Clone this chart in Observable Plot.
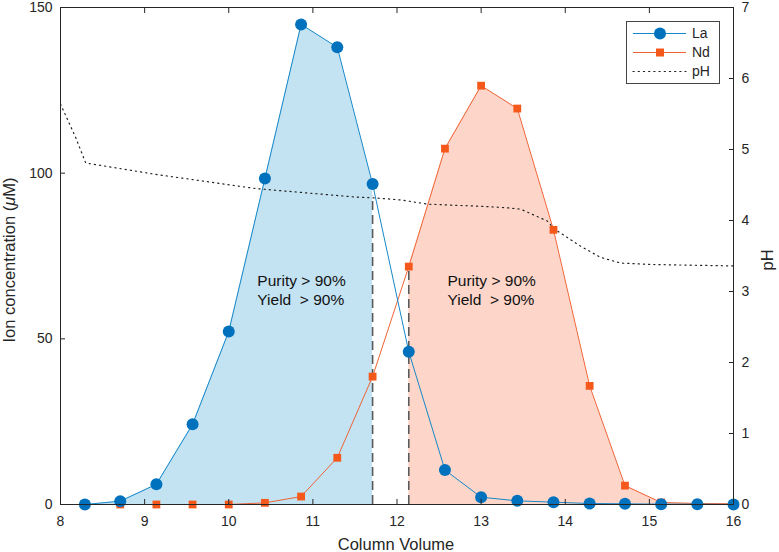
<!DOCTYPE html>
<html lang="en">
<head>
<meta charset="UTF-8">
<title>La / Nd elution</title>
<script src="https://cdn.jsdelivr.net/npm/d3@7"></script>
<script src="https://cdn.jsdelivr.net/npm/@observablehq/plot@0.6"></script>
<style>
  body { margin: 0; background: #fff; }
  #chart svg { display: block; }
</style>
</head>
<body>
<div id="chart"></div>
<script>
// fraction positions (column volumes) and concentrations (uM)
const volume = [8.29, 8.71, 9.14, 9.57, 10.0, 10.43, 10.86, 11.29, 11.71, 12.14, 12.57, 13.0, 13.43, 13.86, 14.29, 14.71, 15.14, 15.57, 16.0];
const la = [0, 1, 6.1, 24.2, 52.2, 98.4, 144.9, 138, 96.7, 46.1, 10.4, 2.2, 1.1, 0.7, 0.3, 0.2, 0.1, 0.1, 0];
const nd = [0, 0, 0, 0, 0, 0.5, 2.4, 14.1, 38.6, 71.8, 107.4, 126.4, 119.5, 82.9, 35.8, 5.7, 0.6, 0.3, 0.2];

// pH trace (right axis)
const phVolume = [8.0, 8.18, 8.30, 9.13, 10.32, 11.51, 11.72, 12.04, 12.37, 13.0, 13.3, 13.47, 13.79, 13.87, 14.18, 14.42, 14.66, 15.05, 16.0];
const ph = [5.64, 5.17, 4.81, 4.65, 4.45, 4.33, 4.32, 4.29, 4.23, 4.2, 4.18, 4.16, 3.99, 3.88, 3.64, 3.48, 3.40, 3.38, 3.36];

// cut points
const cutVolume = [11.71, 12.14];
const cutTop = [93, 71.8];

// annotations
const noteX = [10.34, 12.60];
const noteY = [65, 65];
const noteText = ["Purity > 90%\nYield\u00a0\u00a0> 90%", "Purity > 90%\nYield\u00a0\u00a0> 90%"];

// ticks
const xTicks = [8, 9, 10, 11, 12, 13, 14, 15, 16];
const yTicks = [0, 50, 100, 150];
const pHTicks = [0, 1, 2, 3, 4, 5, 6, 7];

const yMax = 150, pHMax = 7;
const toLeft = p => p * yMax / pHMax;

const laData = volume.map((v, i) => ({x: v, y: la[i]}));
const ndData = volume.map((v, i) => ({x: v, y: nd[i]}));
const phData = phVolume.map((v, i) => ({x: v, y: toLeft(ph[i])}));
const cuts = cutVolume.map((v, i) => ({x: v, top: cutTop[i]}));
const notes = noteX.map((v, i) => ({x: v, y: noteY[i], text: noteText[i]}));

const laLine = "#1688c9", laMark = "#0072bd", laFill = "#c3e2f2";
const ndLine = "#ef6436", ndMark = "#f4591b", ndFill = "#fdd6c9";
const ink = "#262626";

const chart = Plot.plot({
  width: 779,
  height: 552,
  marginLeft: 60,
  marginRight: 46,
  marginTop: 7,
  marginBottom: 48,
  style: {fontFamily: "'Liberation Sans', Arial, sans-serif", fontSize: "14px", color: ink, background: "#fff"},
  x: {domain: [8, 16]},
  y: {domain: [0, yMax]},
  marks: [
    Plot.areaY(laData.filter(d => d.x <= cutVolume[0]), {x: "x", y: "y", fill: laFill}),
    Plot.areaY(ndData.filter(d => d.x >= cutVolume[1]), {x: "x", y: "y", fill: ndFill}),
    Plot.line(phData, {x: "x", y: "y", stroke: "#222", strokeWidth: 1.2, strokeDasharray: "1.2,4", strokeLinecap: "round"}),
    Plot.ruleX(cuts, {x: "x", y1: 0, y2: "top", stroke: "#5a5a5a", strokeWidth: 1.6, strokeDasharray: "9,5"}),
    Plot.line(ndData, {x: "x", y: "y", stroke: ndLine, strokeWidth: 1}),
    Plot.line(laData, {x: "x", y: "y", stroke: laLine, strokeWidth: 1}),
    Plot.dot(ndData, {x: "x", y: "y", symbol: "square", r: 4.4, fill: ndMark}),
    Plot.dot(laData, {x: "x", y: "y", r: 6, fill: laMark}),
    Plot.text(notes, {x: "x", y: "y", text: "text", textAnchor: "start", lineAnchor: "middle", lineHeight: 1.25, fontSize: 15.5, fill: "#111"}),
    // axes: labels outside, ticks inward
    Plot.axisX({anchor: "bottom", ticks: xTicks, tickSize: 0, tickPadding: 12, label: null, fill: ink}),
    Plot.axisX({anchor: "bottom", ticks: xTicks, tickSize: 5, dy: -5, text: null, label: null, stroke: ink}),
    Plot.axisX({anchor: "top", ticks: xTicks, tickSize: 5, dy: 5, text: null, label: null, stroke: ink}),
    Plot.axisY({anchor: "left", ticks: yTicks, tickSize: 0, tickPadding: 8, label: null, fill: ink}),
    Plot.axisY({anchor: "left", ticks: yTicks, tickSize: 5, dx: 5, text: null, label: null, stroke: ink}),
    Plot.axisY({anchor: "right", ticks: pHTicks.map(toLeft), tickFormat: d => Math.round(d * pHMax / yMax), tickSize: 0, tickPadding: 8, label: null, fill: ink}),
    Plot.axisY({anchor: "right", ticks: pHTicks.map(toLeft), tickSize: 5, dx: -5, text: null, label: null, stroke: ink}),
    Plot.frame({stroke: ink, strokeWidth: 1})
  ]
});

document.getElementById("chart").appendChild(chart);

// axis titles and legend, drawn on top of the plot svg
const svg = d3.select(chart);
const font = "'Liberation Sans', Arial, sans-serif";

svg.append("text")
  .attr("x", 396).attr("y", 550)
  .attr("text-anchor", "middle")
  .attr("font-family", font).attr("font-size", 16.5).attr("fill", ink)
  .text("Column Volume");

const yl = svg.append("text")
  .attr("transform", "translate(15,260) rotate(-90)")
  .attr("text-anchor", "middle")
  .attr("font-family", font).attr("font-size", 16.5).attr("fill", ink);
yl.append("tspan").text("Ion concentration (");
yl.append("tspan").attr("font-style", "italic").text("\u03bc");
yl.append("tspan").text("M)");

svg.append("text")
  .attr("transform", "translate(773,260) rotate(-90)")
  .attr("text-anchor", "middle")
  .attr("font-family", font).attr("font-size", 16.5).attr("fill", ink)
  .text("pH");

const legend = svg.append("g")
  .attr("font-family", font).attr("font-size", 14).attr("fill", ink)
  .attr("text-anchor", "start");
legend.append("rect")
  .attr("x", 626.5).attr("y", 21.5).attr("width", 93).attr("height", 62)
  .attr("fill", "#fff").attr("stroke", "#444").attr("stroke-width", 1);

const items = [
  {name: "La", stroke: laLine, mark: "circle", fill: laMark, dash: null},
  {name: "Nd", stroke: ndLine, mark: "square", fill: ndMark, dash: null},
  {name: "pH", stroke: "#222", mark: null, fill: null, dash: "1.2,4"}
];
items.forEach((it, i) => {
  const y = 33.5 + i * 19;
  const g = legend.append("g");
  g.append("line")
    .attr("x1", 633).attr("x2", 686).attr("y1", y).attr("y2", y)
    .attr("stroke", it.stroke).attr("stroke-width", it.dash ? 1.2 : 1)
    .attr("stroke-dasharray", it.dash).attr("stroke-linecap", it.dash ? "round" : null);
  if (it.mark === "circle") g.append("circle").attr("cx", 660).attr("cy", y).attr("r", 6).attr("fill", it.fill);
  if (it.mark === "square") g.append("rect").attr("x", 656).attr("y", y - 4).attr("width", 8).attr("height", 8).attr("fill", it.fill);
  g.append("text").attr("x", 692).attr("y", y).attr("dy", "0.35em").attr("text-anchor", "start").text(it.name);
});
</script>
</body>
</html>
